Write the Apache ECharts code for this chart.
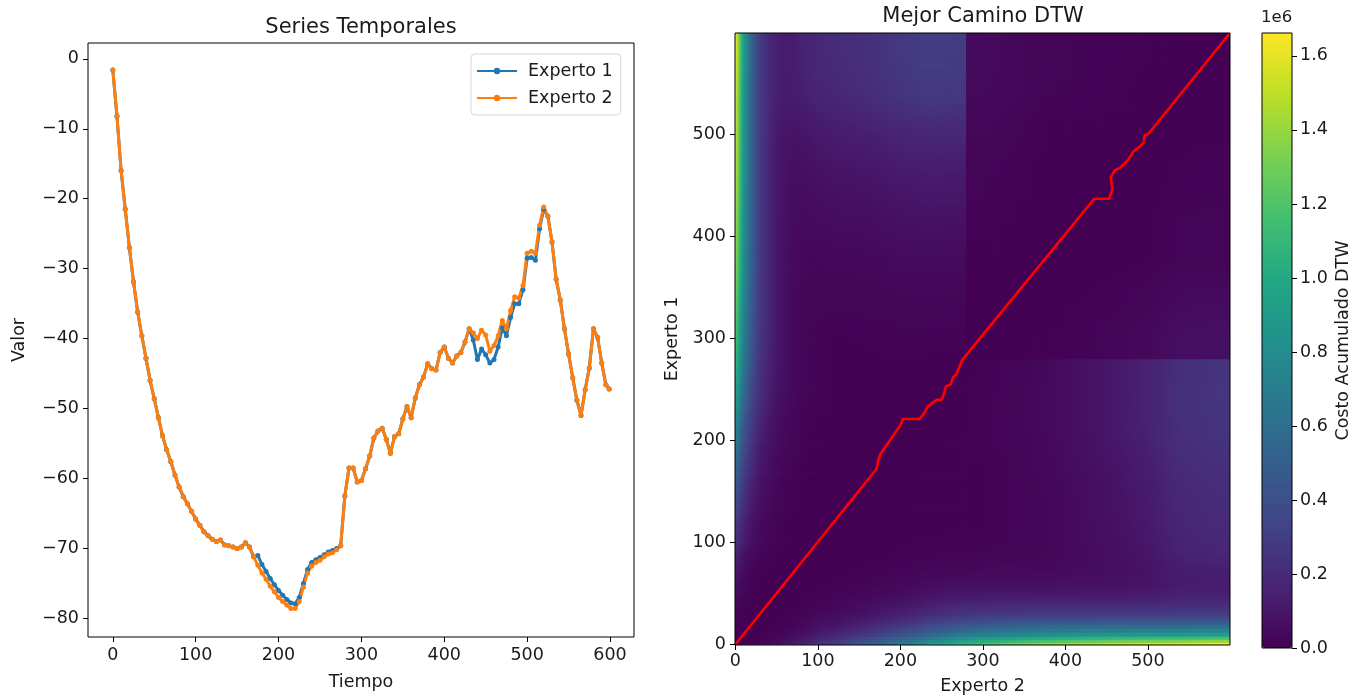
<!DOCTYPE html>
<html><head><meta charset="utf-8">
<script src="https://cdn.jsdelivr.net/npm/echarts@6/dist/echarts.min.js"></script>
<style>html,body{margin:0;padding:0;background:#fff}#c{width:1361px;height:700px}</style>
</head><body><div id="c"></div>
<script>
// ---------- Left panel: time series ----------
const tiempo = [0,5,10,15,20,25,30,35,40,45,50,55,60,65,70,75,80,85,90,95,100,105,110,115,120,125,130,135,140,145,150,155,160,165,170,175,180,185,190,195,200,205,210,215,220,225,230,235,240,245,250,255,260,265,270,275,280,285,290,295,300,305,310,315,320,325,330,335,340,345,350,355,360,365,370,375,380,385,390,395,400,405,410,415,420,425,430,435,440,445,450,455,460,465,470,475,480,485,490,495,500,505,510,515,520,525,530,535,540,545,550,555,560,565,570,575,580,585,590,595,599];
const experto1 = [-1.6,-8.2,-16.0,-21.5,-27.0,-31.9,-36.2,-39.6,-42.8,-46.0,-48.6,-51.3,-53.9,-55.9,-57.6,-59.5,-61.2,-62.6,-63.6,-64.7,-65.8,-66.7,-67.6,-68.2,-68.7,-69.0,-68.8,-69.5,-69.6,-69.8,-70.0,-69.8,-69.2,-69.8,-71.2,-71.0,-72.3,-73.3,-74.3,-75.2,-76.0,-76.7,-77.3,-77.8,-77.9,-77.0,-75.0,-73.0,-72.0,-71.6,-71.3,-70.9,-70.5,-70.3,-70.0,-69.6,-62.5,-58.5,-58.5,-60.5,-60.3,-58.6,-56.8,-54.2,-53.2,-52.8,-54.4,-56.4,-54.0,-53.6,-51.5,-49.7,-51.3,-48.5,-46.6,-45.5,-43.6,-44.3,-44.5,-42.0,-41.2,-42.8,-43.5,-42.5,-42.0,-40.5,-38.6,-40.2,-43.0,-41.5,-42.3,-43.5,-43.0,-41.2,-38.5,-39.6,-37.0,-35.0,-35.0,-33.0,-28.5,-28.4,-28.8,-24.3,-21.5,-22.5,-26.2,-31.5,-34.5,-38.6,-42.2,-45.6,-48.8,-51.0,-47.3,-44.2,-38.6,-39.8,-43.5,-46.6,-47.2];
const experto2 = [-1.6,-8.2,-16.0,-21.5,-27.0,-31.9,-36.2,-39.6,-42.8,-46.0,-48.6,-51.3,-53.9,-55.9,-57.6,-59.5,-61.2,-62.6,-63.6,-64.7,-65.8,-66.7,-67.6,-68.2,-68.7,-69.0,-68.8,-69.5,-69.6,-69.8,-70.0,-69.8,-69.2,-69.8,-71.2,-72.4,-73.5,-74.4,-75.4,-76.2,-77.0,-77.6,-78.1,-78.6,-78.6,-77.6,-75.5,-73.5,-72.5,-72.0,-71.7,-71.2,-70.8,-70.6,-70.2,-69.6,-62.5,-58.5,-58.5,-60.5,-60.3,-58.6,-56.8,-54.2,-53.2,-52.8,-54.4,-56.4,-54.0,-53.6,-51.5,-49.7,-51.3,-48.5,-46.6,-45.5,-43.6,-44.3,-44.5,-42.0,-41.2,-42.8,-43.5,-42.5,-42.0,-40.5,-38.6,-39.2,-40.0,-38.8,-39.5,-41.8,-41.0,-39.6,-37.4,-38.6,-36.0,-34.0,-34.2,-32.4,-27.8,-27.5,-27.8,-23.8,-21.2,-22.5,-26.2,-31.5,-34.5,-38.6,-42.2,-45.6,-48.8,-51.0,-47.3,-44.2,-38.6,-39.8,-43.5,-46.6,-47.2];
const tiempoTicks = [0,100,200,300,400,500,600];
const valorTicks = [-80,-70,-60,-50,-40,-30,-20,-10,0];

// ---------- Right panel: DTW accumulated cost (units of 1e4) ----------
const indiceTicks = [0,100,200,300,400,500];
const costoTicks = [0,0.2,0.4,0.6,0.8,1.0,1.2,1.4,1.6];
const binEdges = [0,2,5,8,12,16,20,25,30,40,50,65,80,100,140,180,220,250,280,320,360,400,440,480,520,560,600];
// costRows[r][c]: r = Experto 1 bin (bottom to top), c = Experto 2 bin (left to right)
const costRows = [
 [0,0,0.01,0.05,0.2,0.35,0.64,1.1,2.0,3.7,6.5,10.2,17.2,29.6,48,68.7,88.6,103.5,117,128,137.5,144,150,154.5,156.7,163.4],
 [0,0,0.005,0.015,0.1,0.2,0.41,0.74,1.45,2.78,5.08,9.0,14.15,24.9,40.8,58.9,76.3,89.2,101,110.2,117.9,123,127.8,131.2,132.8,138.2],
 [0.01,0.005,0,0.003,0.05,0.1,0.23,0.42,0.99,2.03,3.89,7.07,11.55,20.81,34.64,50.43,65.8,77.1,87.15,94.83,101.11,105.08,108.74,111.23,112.22,116.36],
 [0.05,0.015,0.003,0,0.016,0.032,0.1,0.22,0.56,1.28,2.65,5.12,8.68,16.2,27.56,40.71,53.66,63.0,71.1,76.97,81.63,84.34,86.79,88.31,88.73,91.58],
 [0.2,0.1,0.05,0.016,0,0.01,0.04,0.1,0.31,0.82,1.85,3.82,6.72,12.97,22.53,33.74,44.9,52.8,59.5,64.1,67.64,69.51,71.17,72.09,72.34,74.33],
 [0.35,0.2,0.1,0.03,0.01,0,0.01,0.03,0.16,0.49,1.23,2.75,5.05,10.16,18.08,27.51,36.99,43.6,49.04,52.52,55.1,56.28,57.3,57.82,58.0,59.28],
 [0.64,0.41,0.23,0.1,0.04,0.01,0,0.005,0.06,0.24,0.72,1.83,3.58,7.59,13.93,21.62,29.45,34.8,39.04,41.5,43.22,43.85,44.35,44.59,44.81,45.51],
 [1.1,0.74,0.42,0.22,0.1,0.03,0.005,0,0.02,0.1,0.39,1.15,2.42,5.46,10.39,16.52,22.88,27.1,30.28,31.9,32.93,33.18,33.35,33.45,33.85,34.14],
 [2.0,1.45,0.99,0.56,0.31,0.16,0.06,0.02,0,0.025,0.15,0.59,1.4,3.5,7.03,11.59,16.45,19.6,21.7,22.56,23.03,23.08,23.11,23.29,24.19,24.25],
 [3.7,2.78,2.03,1.28,0.82,0.49,0.24,0.1,0.03,0,0.03,0.2,0.61,1.83,4.0,7.0,10.3,12.4,13.52,13.8,13.9,13.97,14.08,14.64,16.39,16.45],
 [6.5,5.08,3.89,2.65,1.85,1.23,0.72,0.39,0.15,0.03,0,0.04,0.18,0.73,1.84,3.57,5.6,6.75,7.3,7.34,7.4,7.85,8.41,9.71,12.52,12.92],
 [10.2,9.0,7.07,5.12,3.82,2.75,1.83,1.15,0.59,0.2,0.04,0,0.03,0.21,0.66,1.55,2.7,3.25,3.44,3.52,3.83,4.94,6.21,8.45,12.67,13.69],
 [17.2,14.15,11.55,8.68,6.72,5.05,3.58,2.42,1.4,0.61,0.18,0.03,0,0.036,0.17,0.56,1.2,1.4,1.5,1.85,2.61,4.48,6.57,9.84,15.46,17.22],
 [29.6,24.9,20.81,16.2,12.97,10.16,7.59,5.46,3.5,1.83,0.73,0.21,0.04,0,0.1,0.3,0.4,0.4,0.5,1.3,2.6,5,7.7,11.5,17.5,19.5],
 [48,40.8,34.64,27.56,22.53,18.08,13.93,10.39,7.03,4.0,1.84,0.66,0.17,0.1,0,0.2,0.35,0.4,0.6,1.5,3,5.5,8.5,12.5,19,21],
 [68.7,58.9,50.43,40.71,33.74,27.51,21.62,16.52,11.59,7.0,3.57,1.55,0.56,0.3,0.2,0,0.15,0.3,0.8,2,4,7,10.5,15,22,24],
 [88.6,76.3,65.8,53.66,44.9,36.99,29.45,22.88,16.45,10.3,5.6,2.7,1.2,0.4,0.35,0.15,0,0.1,0.8,2.2,4.3,7.5,11,16,23,25],
 [103.5,89.2,77.1,63.0,52.8,43.6,34.8,27.1,19.6,12.4,6.75,3.25,1.4,0.4,0.4,0.3,0.1,0,0.7,2,4,7.2,10.8,15.5,22.5,24.5],
 [117,101,87.15,71.1,59.5,49.04,39.04,30.28,21.7,13.52,7.3,3.44,1.5,0.6,0.7,1,1,0.8,0,0.1,0.4,1.2,2.1,3.7,6.5,7.2],
 [128,110.2,94.83,76.97,64.1,52.52,41.5,31.9,22.56,13.8,7.34,3.52,1.85,1.6,1.8,2.4,2.6,2.4,0.1,0,0.07,0.5,1.0,2.0,4.2,4.6],
 [137.5,117.9,101.11,81.63,67.64,55.1,43.22,32.93,23.03,13.9,7.4,3.83,2.61,3.1,3.6,4.6,5.0,4.6,0.4,0.07,0,0.01,0.04,0.35,1.5,1.6],
 [144,123,105.08,84.34,69.51,56.28,43.85,33.18,23.08,13.97,7.85,4.94,4.48,5.6,6.2,7.8,8.4,8.0,1.0,0.5,0.01,0,0.02,0.25,1.27,1.3],
 [150,127.8,108.74,86.79,71.17,57.3,44.35,33.35,23.11,14.08,8.41,6.21,6.57,8.6,9.6,11.6,12.4,12.0,1.6,0.9,0.04,0.02,0,0.18,1.07,1.1],
 [154.5,131.2,111.23,88.31,72.09,57.82,44.59,33.45,23.29,14.64,9.71,8.45,9.84,12.6,14,16.6,18,17.4,2.6,1.6,0.35,0.25,0.18,0,0.05,0.6],
 [156.7,132.8,112.22,88.73,72.34,58.0,44.81,33.85,24.19,16.39,12.52,12.67,15.46,18,21,25,28,27,4.0,2.8,1.3,1.2,1.0,0.05,0,0.27],
 [163.4,138.2,116.36,91.58,74.33,59.28,45.51,34.14,24.25,16.45,12.92,13.69,17.22,20,23,27,30,29,4.5,3.0,1.4,1.2,1.0,0.6,0.27,0]
];
const costoMax = 166.2; // top of colour scale, ×1e4
// DTW best path: index in Experto 2 (x) and Experto 1 (y)
const caminoJ = [0,171,173,176,200,203,223,229,233,239,244,250,253,255,261,264,268,272,275,435,453,457,455,460,466,476,482,490,495,496,501,599];
const caminoI = [0,172,180,187,215,221,221,227,233,237,240,240,246,253,255,262,265,273,279,437,437,446,458,465,467,475,483,488,492,499,501,599];

const viridis = ['#440154','#482475','#414487','#355f8d','#2a788e','#21918c','#22a884','#44bf70','#7ad151','#bddf26','#fde725'];

const FONT = 'DejaVu Sans';
const TXT = '#1a1a1a';
const FS = 17.5;
const minus = v => (v < 0 ? '\u2212' + Math.abs(v) : String(v));
const colorOf = v => echarts.color.lerp(Math.max(0, Math.min(1, v / costoMax)), viridis);

const heatData = [];
for (let r = 0; r < costRows.length; r++)
  for (let c = 0; c < costRows[r].length; c++) heatData.push([c, r, costRows[r][c]]);

// ---- smooth (bilinear-like) shading of each cell; the block above/right of index 280 keeps a sharp edge ----
const nR = costRows.length, nC = costRows[0].length;
const corte = binEdges.indexOf(280);
const zona = (r, c) => (r >= corte && c >= corte ? 1 : 0);
function promedio(r, c, cells) {
  let s = 0, n = 0;
  for (const [rr, cc] of cells) {
    if (rr < 0 || cc < 0 || rr >= nR || cc >= nC) continue;
    if (zona(rr, cc) !== zona(r, c)) continue;
    s += costRows[rr][cc]; n++;
  }
  return n ? s / n : costRows[r][c];
}
function renderCell(params, api) {
  const c = api.value(0), r = api.value(1), v = costRows[r][c];
  const pBL = api.coord([binEdges[c], binEdges[r]]);
  const pTR = api.coord([binEdges[c + 1], binEdges[r + 1]]);
  const x0 = pBL[0], x1 = pTR[0], yb = pBL[1], yt = pTR[1];
  const B = [promedio(r, c, [[r,c],[r-1,c],[r,c-1],[r-1,c-1]]), promedio(r, c, [[r,c],[r-1,c]]), promedio(r, c, [[r,c],[r-1,c],[r,c+1],[r-1,c+1]])];
  const M = [promedio(r, c, [[r,c],[r,c-1]]), v, promedio(r, c, [[r,c],[r,c+1]])];
  const T = [promedio(r, c, [[r,c],[r+1,c],[r,c-1],[r+1,c-1]]), promedio(r, c, [[r,c],[r+1,c]]), promedio(r, c, [[r,c],[r+1,c],[r,c+1],[r+1,c+1]])];
  const h = yb - yt;
  const k = Math.max(1, Math.round(h / 3));
  const children = [];
  for (let s = 0; s < k; s++) {
    const t = (s + 0.5) / k;
    let row;
    if (t < 0.5) { const u = t / 0.5; row = B.map((b, i) => b + (M[i] - b) * u); }
    else { const u = (t - 0.5) / 0.5; row = M.map((m, i) => m + (T[i] - m) * u); }
    const yTop = yb - h * (s + 1) / k, yBot = yb - h * s / k;
    children.push({ type: 'rect',
      shape: { x: x0 - 0.4, y: yTop - 0.4, width: x1 - x0 + 0.8, height: yBot - yTop + 0.8 },
      style: { fill: new echarts.graphic.LinearGradient(0, 0, 1, 0, [
        { offset: 0, color: colorOf(row[0]) }, { offset: 0.5, color: colorOf(row[1]) }, { offset: 1, color: colorOf(row[2]) }]) } });
  }
  return { type: 'group', children: children };
}

const axisCommon = {
  axisLine: { show: false, onZero: false },
  axisTick: { show: true, length: 5, inside: false, lineStyle: { color: '#000', width: 1 } },
  splitLine: { show: false },
  axisLabel: { color: TXT, fontSize: FS, fontFamily: FONT, margin: 9 },
  nameTextStyle: { color: TXT, fontSize: FS, fontFamily: FONT }
};
function ax(extra) { return echarts.util.merge(echarts.util.clone(axisCommon), extra, true); }

const chart = echarts.init(document.getElementById('c'), null, { renderer: 'canvas' });
chart.setOption({
  animation: false,
  backgroundColor: '#fff',
  title: [
    { text: 'Series Temporales', left: 361, top: 17, textAlign: 'center', padding: 0,
      textStyle: { fontSize: 21, fontWeight: 'normal', fontFamily: FONT, color: TXT } },
    { text: 'Mejor Camino DTW', left: 983, top: 6, textAlign: 'center', padding: 0,
      textStyle: { fontSize: 21, fontWeight: 'normal', fontFamily: FONT, color: TXT } },
    { text: '1e6', left: 1261, top: 9, padding: 0,
      textStyle: { fontSize: 16.5, fontWeight: 'normal', fontFamily: FONT, color: TXT } }
  ],
  legend: {
    data: ['Experto 1', 'Experto 2'], orient: 'vertical', left: 471, top: 54,
    itemWidth: 40, itemHeight: 8, itemGap: 9,
    textStyle: { fontSize: FS, fontFamily: FONT, color: TXT, lineHeight: 18, padding: [0, 0, 0, 6] },
    borderColor: '#d5d5d5', borderWidth: 1, borderRadius: 4, padding: [8, 8, 8, 5],
    backgroundColor: '#fff'
  },
  grid: [
    { left: 88, top: 43, width: 546, height: 594, show: true, borderColor: '#000', borderWidth: 1, z: 5, backgroundColor: 'transparent' },
    { left: 735, top: 33, width: 495, height: 615, show: true, borderColor: '#000', borderWidth: 1, z: 5, backgroundColor: 'transparent' },
    { left: 1262, top: 33, width: 30, height: 615, show: true, borderColor: '#000', borderWidth: 1, z: 5, backgroundColor: 'transparent' }
  ],
  xAxis: [
    ax({ gridIndex: 0, type: 'value', min: -29.95, max: 628.95, name: 'Tiempo', nameLocation: 'middle', nameGap: 36,
      axisTick: { customValues: tiempoTicks }, axisLabel: { customValues: tiempoTicks, formatter: minus } }),
    ax({ gridIndex: 1, type: 'value', min: -0.5, max: 599.5, name: 'Experto 2', nameLocation: 'middle', nameGap: 32,
      axisTick: { customValues: indiceTicks }, axisLabel: { customValues: indiceTicks, margin: 7 } }),
    { gridIndex: 2, type: 'value', min: 0, max: 1, show: false }
  ],
  yAxis: [
    ax({ gridIndex: 0, type: 'value', min: -82.66, max: 2.26, name: 'Valor', nameLocation: 'middle', nameGap: 60,
      axisTick: { customValues: valorTicks }, axisLabel: { customValues: valorTicks, formatter: minus } }),
    ax({ gridIndex: 1, type: 'value', min: -0.5, max: 599.5, name: 'Experto 1', nameLocation: 'middle', nameGap: 54,
      axisTick: { customValues: indiceTicks }, axisLabel: { customValues: indiceTicks } }),
    ax({ gridIndex: 2, type: 'value', position: 'right', min: 0, max: costoMax / 100, name: 'Costo Acumulado DTW',
      nameLocation: 'middle', nameGap: 42, nameRotate: 90,
      axisTick: { customValues: costoTicks }, axisLabel: { customValues: costoTicks, formatter: v => v.toFixed(1), margin: 8 } })
  ],
  visualMap: {
    type: 'continuous', seriesIndex: 2, dimension: 2, min: 0, max: costoMax,
    inRange: { color: viridis }, calculable: false, showLabel: false, text: null,
    orient: 'vertical', left: 1262, top: 33, itemWidth: 30, itemHeight: 615, padding: 0, z: 1, hoverLink: false
  },
  series: [
    { name: 'Experto 1', type: 'line', xAxisIndex: 0, yAxisIndex: 0,
      data: tiempo.map((t, k) => [t, experto1[k]]),
      color: '#1f77b4', lineStyle: { width: 3, color: '#1f77b4' },
      symbol: 'circle', symbolSize: 5, showAllSymbol: true, itemStyle: { color: '#1f77b4' } },
    { name: 'Experto 2', type: 'line', xAxisIndex: 0, yAxisIndex: 0,
      data: tiempo.map((t, k) => [t, experto2[k]]),
      color: '#ff7f0e', lineStyle: { width: 3, color: '#ff7f0e' },
      symbol: 'circle', symbolSize: 5, showAllSymbol: true, itemStyle: { color: '#ff7f0e' } },
    { name: 'costo', type: 'custom', xAxisIndex: 1, yAxisIndex: 1, clip: true, z: 1,
      data: heatData, renderItem: renderCell },
    { name: 'camino', type: 'line', xAxisIndex: 1, yAxisIndex: 1, z: 3,
      data: caminoJ.map((j, k) => [j, caminoI[k]]),
      symbol: 'none', lineStyle: { color: '#ff0000', width: 2.6 } }
  ]
});
</script></body></html>
